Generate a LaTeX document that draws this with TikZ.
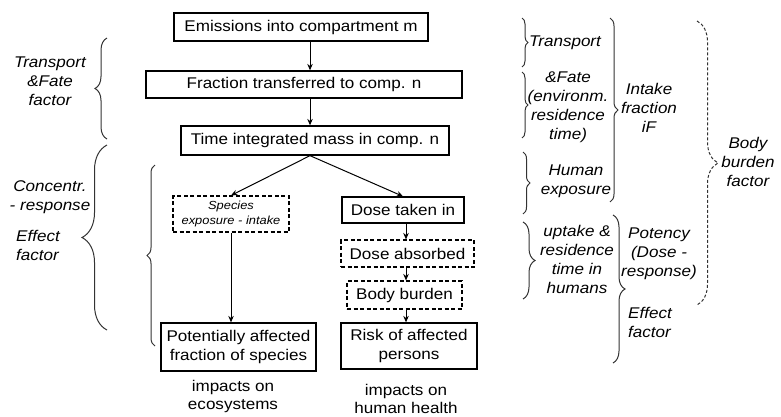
\documentclass[tikz,border=0pt]{standalone}
\usepackage{fontspec}
\setmainfont{Liberation Sans}[FakeStretch=1.1]
\usetikzlibrary{arrows.meta,decorations.pathreplacing}
\begin{document}
\begin{tikzpicture}[x=1pt,y=-1pt,
  font=\fontsize{15.5}{19}\selectfont,
  box/.style={draw, line width=1.3pt, inner sep=0pt, align=center},
  dbox/.style={box, line width=1.1pt, dash pattern=on 4pt off 2.5pt},
  arr/.style={-{Stealth[length=6.5pt,width=5.5pt]}, line width=1pt},
  brc/.style={decorate, line width=1pt, draw=black!80},
  lab/.style={align=center, font=\fontsize{15.5}{19}\selectfont\itshape, inner sep=0pt},
  labl/.style={lab, align=left},
  imp/.style={align=center, font=\fontsize{15.5}{18}\selectfont, inner sep=0pt}]
\useasboundingbox (0,0) rectangle (781,416);

% main boxes
\node[box, minimum width=254pt, minimum height=28pt] (em) at (301,27) {Emissions into compartment m};
\node[box, minimum width=316pt, minimum height=27pt] (fr) at (304,84.5) {Fraction transferred to comp. n};
\node[box, minimum width=268pt, minimum height=29pt] (ti) at (315,140.5) {Time integrated mass in comp. n};
\node[dbox, minimum width=116pt, minimum height=36pt, font=\fontsize{11.7}{14.5}\selectfont\itshape] (sp) at (231,214) {Species\\exposure - intake};
\node[box, minimum width=155pt, minimum height=48pt] (po) at (238.5,347) {Potentially affected\\fraction of species};
\node[box, minimum width=122pt, minimum height=26pt] (dt) at (403,210) {Dose taken in};
\node[dbox, minimum width=133pt, minimum height=27pt] (da) at (407.5,253.5) {Dose absorbed};
\node[dbox, minimum width=115pt, minimum height=28pt] (bb) at (404.5,295) {Body burden};
\node[box, minimum width=136pt, minimum height=46pt] (ri) at (409,346) {Risk of affected\\persons};

\node[imp] (ie) at (233,396) {impacts on\\ecosystems};
\node[imp] (ih) at (406,399) {impacts on\\human health};

% connectors
\coordinate (ax) at (310,0);
\coordinate (bx) at (406,0);
\draw[arr] (em.south -| ax) -- (fr.north -| ax);
\draw[arr] (fr.south -| ax) -- (ti.north -| ax);
\draw[arr] (ti.south -| ax) -- (sp.north);
\draw[arr] (ti.south -| ax) -- (dt.north);
\draw[arr] (sp.south) -- (sp.south |- po.north);
\draw[arr] (dt.south -| bx) -- (da.north -| bx);
\draw[arr] (da.south -| bx) -- (bb.north -| bx);
\draw[arr] (bb.south -| bx) -- (ri.north -| bx);

% left braces and labels
\draw[brc, decoration={brace, amplitude=12pt}] (107,139) -- (107,38);
\draw[brc, decoration={brace, amplitude=25pt}] (107,330) -- (107,145);
\draw[brc, decoration={brace, amplitude=8pt}] (155,346) -- (155,165);
\node[lab] (tf) at (50,81) {Transport\\\&Fate\\factor};
\node[lab] (cr) at (50,197.5) {Concentr.\\- response};
\node[labl] (ef) at (38,245) {Effect\\factor};

% right braces and labels
\draw[brc, decoration={brace, amplitude=6pt}] (522,18) -- (522,67);
\draw[brc, decoration={brace, amplitude=6pt}] (522,72) -- (522,138);
\draw[brc, decoration={brace, amplitude=7pt}] (523,152) -- (523,214);
\draw[brc, decoration={brace, amplitude=12pt}] (523,222) -- (523,299);
\draw[brc, decoration={brace, amplitude=8pt}] (610,18) -- (610,202);
\draw[brc, decoration={brace, amplitude=12pt}] (613,215) -- (613,363);
\draw[brc, dash pattern=on 3pt off 2pt, decoration={brace, amplitude=21pt}] (697,21) -- (697,305);

\node[lab, anchor=west] (rt) at (529,43) {Transport};
\node[lab] (rf) at (568,107) {\&Fate\\(environm.\\residence\\time)};
\node[lab] (he) at (576,181) {Human\\exposure};
\node[lab] (up) at (577,259) {uptake \&\\residence\\time in\\humans};
\node[lab] (inf) at (649,108) {Intake\\fraction\\iF};
\node[lab] (pt) at (659,254) {Potency\\(Dose -\\response)};
\node[labl, anchor=west] (ef2) at (628,322.5) {Effect\\factor};
\node[lab] (bf) at (748,162) {Body\\burden\\factor};
\end{tikzpicture}
\end{document}
